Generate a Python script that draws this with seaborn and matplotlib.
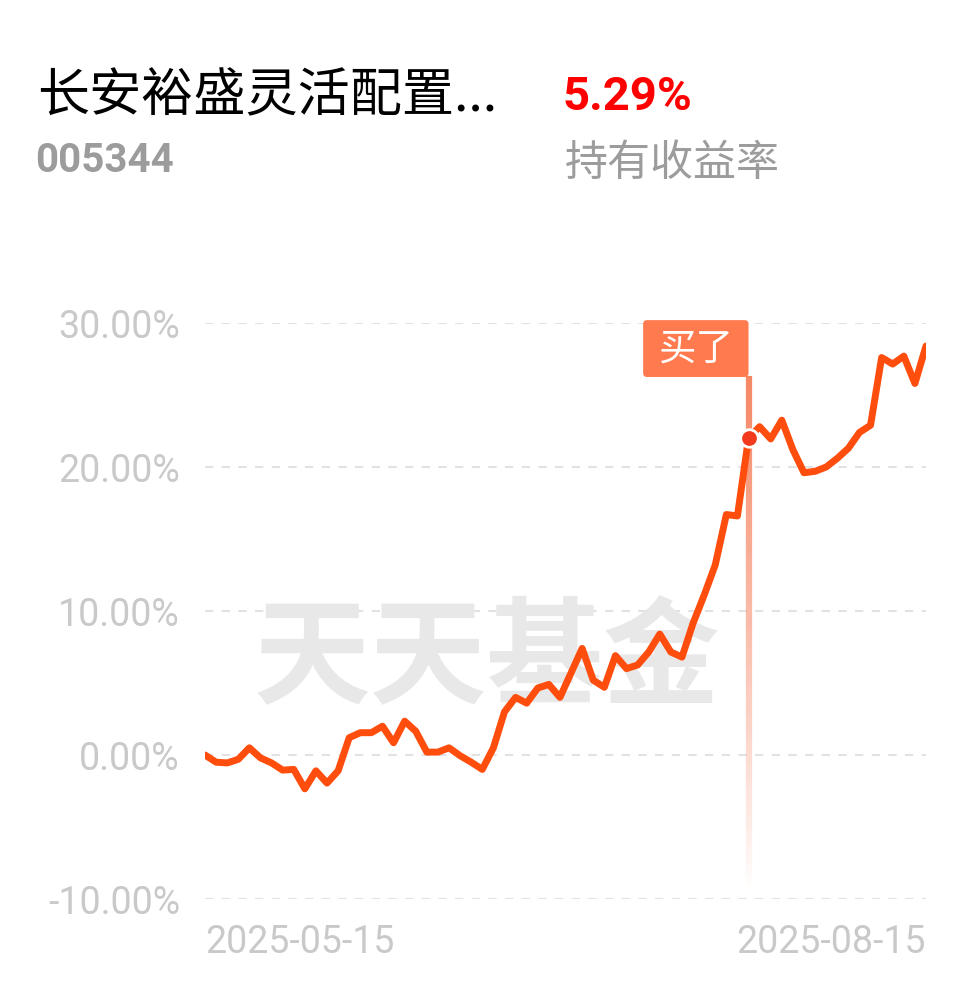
import numpy as np
import seaborn as sns
import matplotlib.pyplot as plt
from matplotlib.collections import LineCollection
from matplotlib.patches import FancyBboxPatch

# data (holding return, %)
returns = [0.0, -0.5, -0.55, -0.3, 0.5, -0.2, -0.55, -1.05, -1.0, -2.35,
           -1.1, -1.95, -1.1, 1.2, 1.55, 1.55, 2.0, 0.85, 2.35, 1.65,
           0.2, 0.2, 0.5, -0.05, -0.5, -1.0, 0.5, 3.0, 4.0, 3.6,
           4.65, 4.9, 4.0, 5.7, 7.4, 5.2, 4.7, 6.9, 6.0, 6.25,
           7.15, 8.4, 7.15, 6.8, 9.15, 11.1, 13.2, 16.7, 16.6, 22.0,
           22.8, 21.95, 23.25, 21.2, 19.6, 19.7, 20.0, 20.6, 21.3, 22.4,
           22.9, 27.6, 27.15, 27.7, 25.8, 28.4]
days = list(range(len(returns)))
date_labels = ["2025-05-15", "2025-08-15"]
y_ticks = [-10, 0, 10, 20, 30]
buy_index = 49

fund_name = "长安裕盛灵活配置..."
fund_code = "005344"
hold_return = "5.29%"
hold_label = "持有收益率"

sns.set_style("white")
plt.rcParams['font.family'] = ['Roboto', 'Noto Sans CJK SC', 'DejaVu Sans']
cjk = ['Noto Sans CJK SC', 'DejaVu Sans']

W, H = 978, 986
fig = plt.figure(figsize=(W / 100, H / 100), dpi=100)
ax = fig.add_axes([205 / W, (H - 899) / H, (926 - 205) / W, (899 - 323) / H])

line_color = '#ff4d0d'
sns.lineplot(x=days, y=returns, ax=ax, color=line_color, linewidth=5, zorder=5)

ax.set_xlim(0, len(returns) - 1)
ax.set_ylim(-10, 30)
ax.set_yticks(y_ticks)
ax.set_yticklabels([f"{v:.2f}%" for v in y_ticks])
ax.set_xticks([0, len(returns) - 1])
ax.set_xticklabels(date_labels)
xl = ax.get_xticklabels()
xl[0].set_horizontalalignment('left')
xl[1].set_horizontalalignment('right')
ax.tick_params(axis='y', length=0, pad=18, labelsize=27, labelcolor='#c9c9c9')
ax.tick_params(axis='x', length=0, pad=18, labelsize=27, labelcolor='#c9c9c9')
for s in ax.spines.values():
    s.set_visible(False)
ax.grid(axis='y', color='#e2e2e2', linestyle=(0, (4, 4)), linewidth=1.5)
ax.set_axisbelow(True)
ax.set_xlabel('')
ax.set_ylabel('')

# watermark
ax.text(487 / W, 1 - 660 / H, "天天基金", transform=fig.transFigure, ha='center', va='center',
        fontsize=84, fontweight='bold', color='#e8e8e8', family=cjk, zorder=1)

# buy marker: fading vertical line
ys = np.linspace(26.3, -9.4, 120)
segs = [[(buy_index, ys[i]), (buy_index, ys[i + 1])] for i in range(len(ys) - 1)]
alphas = np.clip(np.linspace(1.0, 0.0, len(segs)), 0, 1) ** 0.9
cols = [(0.96, 0.48, 0.33, a * 0.9) for a in alphas]
ax.add_collection(LineCollection(segs, colors=cols, linewidths=4.5, zorder=4))

box = FancyBboxPatch((39.5, 26.25), buy_index - 39.5, 3.95,
                     boxstyle="round,pad=0,rounding_size=0.35", mutation_aspect=0.77,
                     facecolor='#ff7b4f', edgecolor='none', clip_on=False, zorder=6)
ax.add_patch(box)
ax.text((39.5 + buy_index) / 2, 28.2, "买了", ha='center', va='center', color='white',
        fontsize=27, family=cjk, zorder=7)
ax.scatter([buy_index], [returns[buy_index]], s=160, color='#f23a1c', edgecolor='white',
           linewidth=2, zorder=8)

# header
fig.text(37 / W, 1 - 97 / H, fund_name, ha='left', va='center', fontsize=37.5,
         color='black', family=cjk)
fig.text(35 / W, 1 - 161 / H, fund_code, ha='left', va='center', fontsize=29,
         fontweight='bold', color='#9c9c9c', family=['Roboto', 'DejaVu Sans'])
fig.text(563 / W, 1 - 97 / H, hold_return, ha='left', va='center', fontsize=34,
         fontweight='bold', color='#ff0000', family=['Roboto', 'DejaVu Sans'])
fig.text(565 / W, 1 - 164 / H, hold_label, ha='left', va='center', fontsize=31,
         color='#9c9c9c', family=cjk)

plt.savefig('out.png', dpi=100)
